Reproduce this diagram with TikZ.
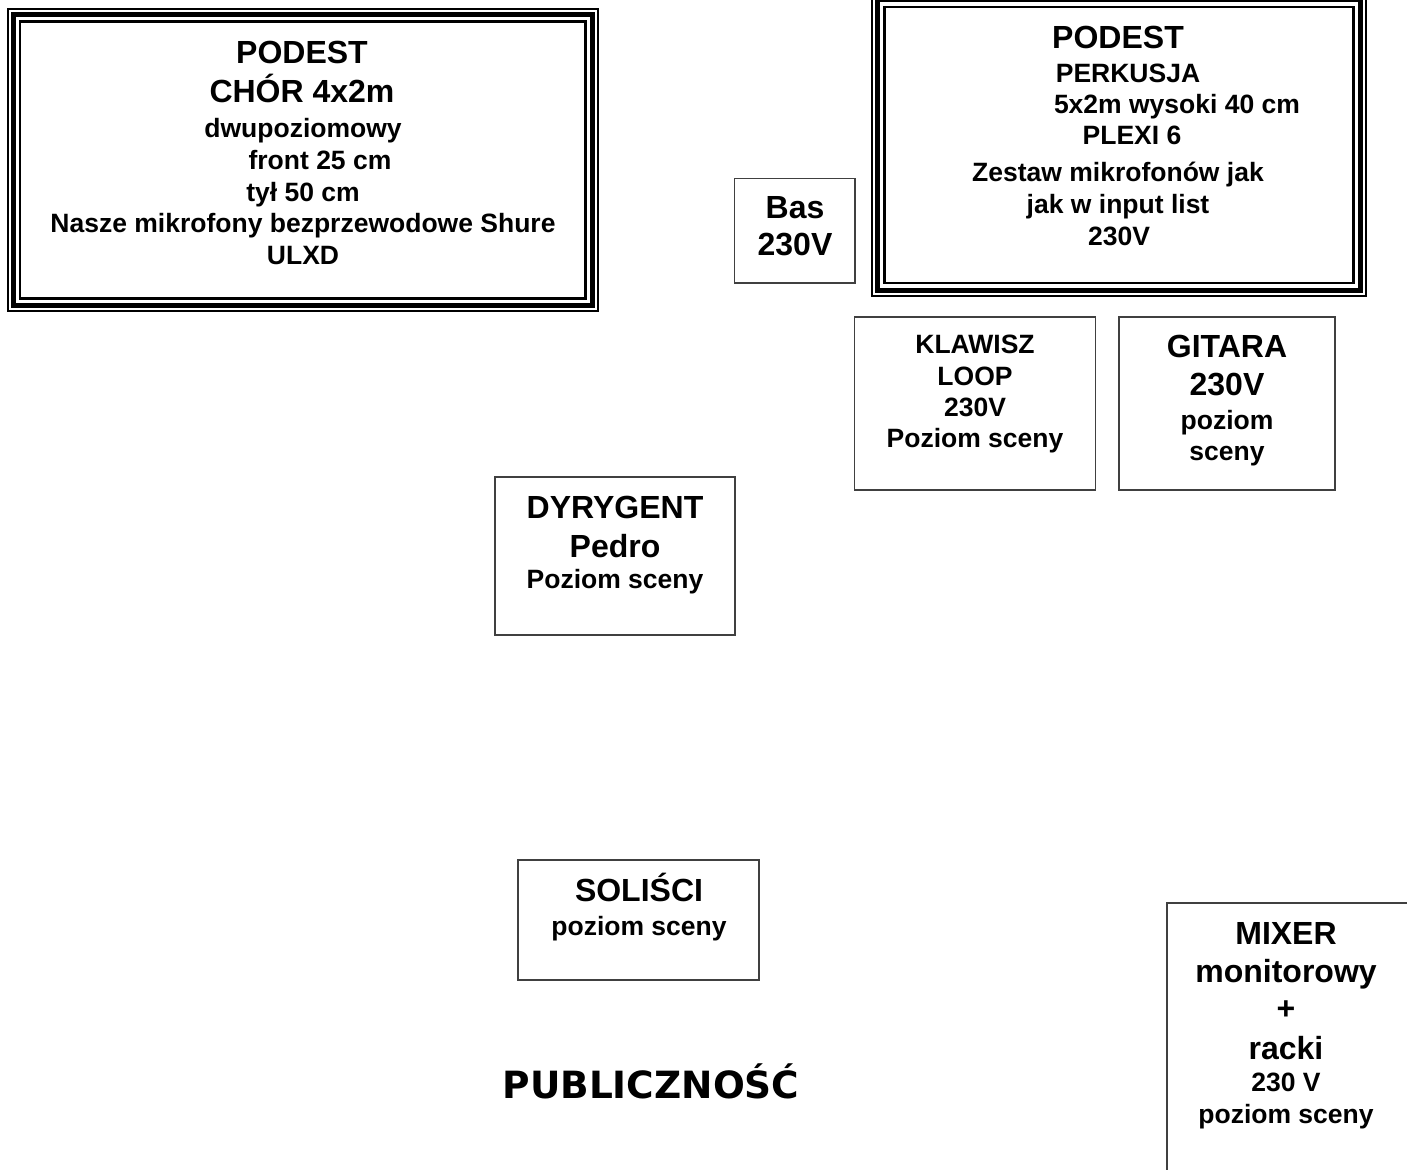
\documentclass[tikz,border=0pt]{standalone}
\usepackage{fontspec}
\setmainfont{Liberation Sans}
\newfontfamily\verdana{DejaVu Sans}
\usepackage{tikz}
\usetikzlibrary{positioning}

\begin{document}
\begin{tikzpicture}[x=1pt, y=-1pt,
	duzy/.style={font=\bfseries\fontsize{32}{36}\selectfont, anchor=base, inner sep=0pt},
	maly/.style={font=\bfseries\fontsize{26.5}{30}\selectfont, anchor=base, inner sep=0pt},
	pole/.style={draw=black!75, line width=1.2pt, inner sep=0pt},
	ramka/.style={draw, line width=2pt, inner sep=0pt}]
	\useasboundingbox (0,0) rectangle (1407,1169);
	% podesty z potrojna ramka
	\node (chor) [ramka, minimum width=590.5pt, minimum height=302pt] at (302.75,160) {};
	\node (perkusja) [ramka, minimum width=494pt, minimum height=301pt] at (1119,145) {};
	\foreach \p in {chor, perkusja} {
		\draw[line width=5pt] ([shift={(6.5,6.5)}]\p.north west) rectangle ([shift={(-6.5,-6.5)}]\p.south east);
		\draw[line width=2.5pt] ([shift={(13.5,13.5)}]\p.north west) rectangle ([shift={(-13.5,-13.5)}]\p.south east);
	}
	% stanowiska
	\node (bas) [pole, minimum width=120.5pt, minimum height=104.5pt] at (794.75,230.75) {};
	\node (klawisz) [pole, minimum width=241pt, minimum height=173pt] at (975,403.5) {};
	\node (gitara) [pole, minimum width=216pt, minimum height=173pt] at (1227,403.5) {};
	\node (dyrygent) [pole, minimum width=240pt, minimum height=158pt] at (615,556) {};
	\node (solisci) [pole, minimum width=241pt, minimum height=120pt] at (638.5,920) {};
	\node (mixer) [pole, minimum width=243pt, minimum height=272pt] at (1288.5,1039) {};
	% opisy
	\foreach \xx/\yy/\f/\t [count=\i] in {302/64/duzy/PODEST, 302/103/duzy/CHÓR 4x2m,
		303/138/maly/dwupoziomowy, 320/169.5/maly/front 25 cm, 303/201/maly/tył 50 cm,
		303/232.5/maly/Nasze mikrofony bezprzewodowe Shure, 303/264/maly/ULXD}
		\node (chor-\i) [\f] at (\xx,\yy) {\t};
	\foreach \xx/\yy/\f/\t [count=\i] in {1118/48.5/duzy/PODEST, 1128/83/maly/PERKUSJA,
		1177/114/maly/5x2m wysoki 40 cm, 1132/145/maly/PLEXI 6,
		1118/182/maly/Zestaw mikrofonów jak, 1118/213.5/maly/jak w input list, 1119/245/maly/230V}
		\node (perkusja-\i) [\f] at (\xx,\yy) {\t};
	\foreach \yy/\f/\t [count=\i] in {218.3/duzy/Bas, 255/duzy/230V}
		\node (bas-\i) [\f] at (795,\yy) {\t};
	\foreach \yy/\f/\t [count=\i] in {353/maly/KLAWISZ, 385/maly/LOOP, 416/maly/230V, 447/maly/Poziom sceny}
		\node (klawisz-\i) [\f] at (975,\yy) {\t};
	\foreach \yy/\f/\t [count=\i] in {357/duzy/GITARA, 395/duzy/230V, 429/maly/poziom, 460/maly/sceny}
		\node (gitara-\i) [\f] at (1227,\yy) {\t};
	\foreach \yy/\f/\t [count=\i] in {518/duzy/DYRYGENT, 557/duzy/Pedro, 588/maly/Poziom sceny}
		\node (dyrygent-\i) [\f] at (615,\yy) {\t};
	\foreach \yy/\f/\t [count=\i] in {901/duzy/SOLIŚCI, 935/maly/poziom sceny}
		\node (solisci-\i) [\f] at (639,\yy) {\t};
	\foreach \yy/\f/\t [count=\i] in {944.5/duzy/MIXER, 982/duzy/monitorowy, 1019/duzy/+,
		1059/duzy/racki, 1091/maly/230 V, 1123.5/maly/poziom sceny}
		\node (mixer-\i) [\f] at (1286,\yy) {\t};
	\node (publicznosc) [anchor=base, inner sep=0pt, font=\verdana\bfseries\fontsize{37.5}{42}\selectfont] at (651,1098) {PUBLICZNOŚĆ};
\end{tikzpicture}
\end{document}
